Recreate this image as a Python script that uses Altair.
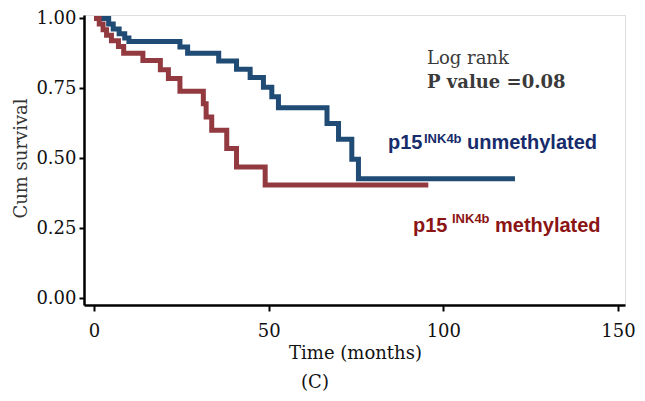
import altair as alt
import pandas as pd

# Kaplan-Meier step data
unmeth_time = [0, 4.2, 5.5, 7.2, 8.8, 10, 24.6, 26.8, 35.7, 40.8, 44.7, 48.5, 50.9, 52.8, 66.7, 70, 73.8, 75.7, 120.5]
unmeth_surv = [1, 0.98, 0.962, 0.945, 0.93, 0.918, 0.898, 0.876, 0.848, 0.818, 0.789, 0.754, 0.72, 0.681, 0.624, 0.568, 0.496, 0.427, 0.427]
meth_time = [0, 1.5, 2.6, 3.6, 5, 7, 8.5, 14, 19, 21.3, 24.6, 31.3, 32.1, 33.7, 38, 40.8, 49, 95.7]
meth_surv = [1, 0.98, 0.96, 0.94, 0.92, 0.90, 0.876, 0.85, 0.817, 0.785, 0.74, 0.695, 0.648, 0.6, 0.535, 0.469, 0.404, 0.404]

groups = ["unmethylated", "methylated"]
x_ticks = [0, 50, 100, 150]
y_ticks = [0, 0.25, 0.5, 0.75, 1.0]

rows = []
for t, s in zip(unmeth_time, unmeth_surv):
    rows.append({"time": t, "surv": s, "group": groups[0], "order": 0})
for t, s in zip(meth_time, meth_surv):
    rows.append({"time": t, "surv": s, "group": groups[1], "order": 1})
df = pd.DataFrame(rows)

W, H = 541, 290
SERIF = "DejaVu Serif"
SANS = "Liberation Sans"

x_scale = alt.Scale(domain=[-2.86, 152], nice=False, zero=False)
y_scale = alt.Scale(domain=[-0.025, 1.0125], nice=False, zero=False)

lines = alt.Chart(df).mark_line(strokeWidth=5, interpolate="step-after", strokeCap="butt").encode(
    x=alt.X("time:Q", scale=x_scale,
            axis=alt.Axis(values=x_ticks, title="Time (months)", grid=False, format="d",
                          domainColor="black", domainWidth=2.5, tickColor="black", tickWidth=2, tickSize=6,
                          labelFont=SERIF, labelFontSize=18, labelColor="#111", labelPadding=11,
                          titleFont=SERIF, titleFontSize=18, titleFontWeight="normal", titleColor="#111",
                          titleX=271, titleY=53, titleAlign="center", titleBaseline="alphabetic")),
    y=alt.Y("surv:Q", scale=y_scale,
            axis=alt.Axis(values=y_ticks, title="Cum survival", grid=False, format=".2f",
                          domainColor="black", domainWidth=2.5, tickColor="black", tickWidth=2, tickSize=5,
                          labelFont=SERIF, labelFontSize=18, labelColor="#111", labelPadding=3,
                          titleFont=SERIF, titleFontSize=18, titleFontWeight="normal", titleColor="#333",
                          titleX=-58, titleY=143, titleAlign="center", titleBaseline="alphabetic", titleAngle=-90)),
    color=alt.Color("group:N", scale=alt.Scale(domain=groups, range=["#1f4b75", "#933a40"]), legend=None),
    detail="group:N",
    order=alt.Order("order:Q"),
)

one = pd.DataFrame({"k": [0]})

def txt(s, x, y, size, font, color, weight="normal", align="left"):
    return alt.Chart(one).mark_text(text=s, font=font, fontSize=size, fontWeight=weight, color=color,
                                    align=align, baseline="alphabetic").encode(
        x=alt.value(x), y=alt.value(y))

annotations = [
    txt("Log rank", 343, 49, 18, SERIF, "#3a3a3a"),
    txt("P value =0.08", 343, 73, 18, SERIF, "#3a3a3a", weight="bold"),
    txt("p15", 304, 134, 20, SANS, "#172c6b", weight="bold"),
    txt("INK4b", 340, 128, 13, SANS, "#172c6b", weight="bold"),
    txt("unmethylated", 383, 134, 20, SANS, "#172c6b", weight="bold"),
    txt("p15", 329, 217, 20, SANS, "#8b1414", weight="bold"),
    txt("INK4b", 368, 208, 13, SANS, "#8b1414", weight="bold"),
    txt("methylated", 411, 217, 20, SANS, "#8b1414", weight="bold"),
    txt("(C)", 231, 373, 18, SERIF, "#111", align="center"),
]

lines_by_group = [
    lines.transform_filter(alt.datum.group == groups[0]),
    lines.transform_filter(alt.datum.group == groups[1]),
]

chart = alt.layer(*lines_by_group, *annotations).properties(
    width=W, height=H,
    autosize=alt.AutoSizeParams(type="none"),
    padding={"left": 76, "top": 7, "right": 12, "bottom": 88},
).configure_view(stroke=None).configure(background="white")

chart.save("out.html", embed_options={"renderer": "svg", "actions": False})
